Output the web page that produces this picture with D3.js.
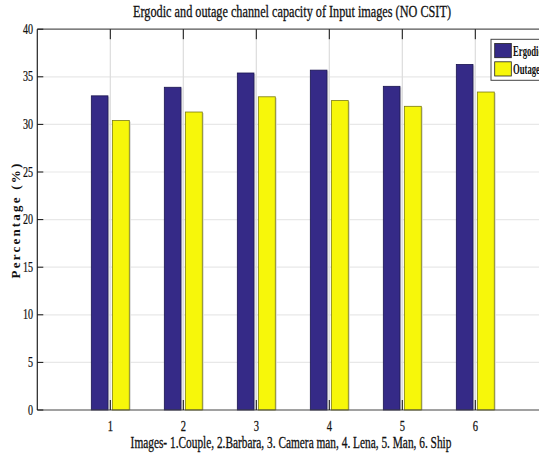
<!DOCTYPE html>
<html><head><meta charset="utf-8">
<script src="https://cdn.jsdelivr.net/npm/d3@7"></script>
<style>body{margin:0;background:#fff}svg{display:block}text{font-family:"Liberation Serif","Times New Roman",serif;fill:#111}</style>
</head><body><svg id="c" width="539" height="461"></svg>
<script>
const categories = [1, 2, 3, 4, 5, 6];
const ergodic = [33.0, 33.9, 35.4, 35.7, 34.0, 36.3];
const outage  = [30.4, 31.3, 32.9, 32.5, 31.9, 33.4];
const yTicks = [0, 5, 10, 15, 20, 25, 30, 35, 40];
const seriesNames = ["Ergodic", "Outage"];
const colors = ["#352a87", "#f7f70a"];
const strokes = ["#1a1550", "#7a7a10"];

const svg = d3.select("#c");
const L = 37.3, R = 548.3, T = 29.2, B = 410;
const x = d3.scaleLinear().domain([0, 7]).range([L, R]);
const y = d3.scaleLinear().domain([0, 40]).range([B, T]);

// grid
svg.append("g").selectAll("line.h").data(yTicks.slice(1,-1)).join("line")
  .attr("x1", L).attr("x2", R).attr("y1", d => y(d)).attr("y2", d => y(d))
  .attr("stroke", "#e8e8e8").attr("stroke-width", 1.2);
svg.append("g").selectAll("line.v").data(categories).join("line")
  .attr("x1", d => x(d)).attr("x2", d => x(d)).attr("y1", T).attr("y2", B)
  .attr("stroke", "#dcdcdc").attr("stroke-width", 1.2);

// bars
const series = [ergodic, outage];
const offs = [[-0.26, -0.032], [0.028, 0.26]];
series.forEach((vals, s) => {
  const g = svg.append("g");
  g.selectAll("rect.sh").data(vals).join("rect")
    .attr("x", (d, i) => x(categories[i] + offs[s][0]) + 1.5)
    .attr("y", d => y(d) + 1)
    .attr("width", x(offs[s][1]) - x(offs[s][0]))
    .attr("height", d => B - y(d) - 1)
    .attr("fill", "#d8d8d8");
  g.selectAll("rect.b").data(vals).join("rect")
    .attr("x", (d, i) => x(categories[i] + offs[s][0]))
    .attr("y", d => y(d))
    .attr("width", x(offs[s][1]) - x(offs[s][0]))
    .attr("height", d => B - y(d))
    .attr("fill", colors[s]).attr("stroke", strokes[s]).attr("stroke-width", 0.8);
});

// axes frame
svg.append("line").attr("x1", L).attr("x2", R).attr("y1", T).attr("y2", T).attr("stroke", "#555").attr("stroke-width", 1.2);
svg.append("line").attr("x1", L).attr("x2", R).attr("y1", B).attr("y2", B).attr("stroke", "#444").attr("stroke-width", 1.2);
svg.append("line").attr("x1", L).attr("x2", L).attr("y1", T).attr("y2", B).attr("stroke", "#222").attr("stroke-width", 1.2);

// x ticks (inward, bottom and top)
svg.append("g").selectAll("line").data(categories).join("line")
  .attr("x1", d => x(d)).attr("x2", d => x(d)).attr("y1", B).attr("y2", B - 10)
  .attr("stroke", "#111").attr("stroke-width", 1);
svg.append("g").selectAll("line").data(categories).join("line")
  .attr("x1", d => x(d)).attr("x2", d => x(d)).attr("y1", T).attr("y2", T + 10)
  .attr("stroke", "#111").attr("stroke-width", 1);
// y ticks
svg.append("g").selectAll("line").data(yTicks).join("line")
  .attr("x1", L).attr("x2", L + 6).attr("y1", d => y(d)).attr("y2", d => y(d))
  .attr("stroke", "#111").attr("stroke-width", 1);

// tick labels
svg.append("g").selectAll("text").data(categories).join("text")
  .attr("x", 0).attr("y", 0).attr("text-anchor", "middle")
  .attr("font-size", 14).attr("stroke", "#111").attr("stroke-width", 0.25)
  .attr("transform", d => `translate(${x(d)},431) scale(0.75,1)`)
  .text(d => d);
svg.append("g").selectAll("text").data(yTicks).join("text")
  .attr("x", 0).attr("y", 0).attr("text-anchor", "end")
  .attr("font-size", 14).attr("stroke", "#111").attr("stroke-width", 0.25)
  .attr("transform", d => `translate(33,${y(d) + 4.5}) scale(0.72,1)`)
  .text(d => d);

// title
svg.append("text").attr("x", 0).attr("y", 0).attr("text-anchor", "middle")
  .attr("font-size", 17).attr("stroke", "#111").attr("stroke-width", 0.3)
  .attr("transform", "translate(292,17) scale(0.72,1)")
  .text("Ergodic and outage channel capacity of Input images (NO CSIT)");
// x label
svg.append("text").attr("x", 0).attr("y", 0).attr("text-anchor", "middle")
  .attr("font-size", 16).attr("stroke", "#111").attr("stroke-width", 0.3)
  .attr("transform", "translate(291,448) scale(0.71,1)")
  .text("Images- 1.Couple, 2.Barbara, 3. Camera man, 4. Lena, 5. Man, 6. Ship");
// y label
svg.append("text").attr("transform", "translate(20,220) rotate(-90)")
  .attr("text-anchor", "middle").attr("font-size", 13).attr("font-weight", "bold")
  .attr("letter-spacing", 2.2)
  .text("Percentage (%)");

// legend
const lg = svg.append("g");
lg.append("rect").attr("x", 491).attr("y", 39.3).attr("width", 70).attr("height", 41)
  .attr("fill", "#fff").attr("stroke", "#444").attr("stroke-width", 1);
seriesNames.forEach((n, i) => {
  lg.append("rect").attr("x", 494.7).attr("y", 43.5 + i * 18.3).attr("width", 16.6).attr("height", 14.2)
    .attr("fill", colors[i]).attr("stroke", "#222").attr("stroke-width", 0.8);
  lg.append("text").attr("transform", `translate(513,${56 + i * 18.3}) scale(0.56,1)`)
    .attr("font-size", 15.5).attr("font-weight", "bold").text(n);
});
</script></body></html>
